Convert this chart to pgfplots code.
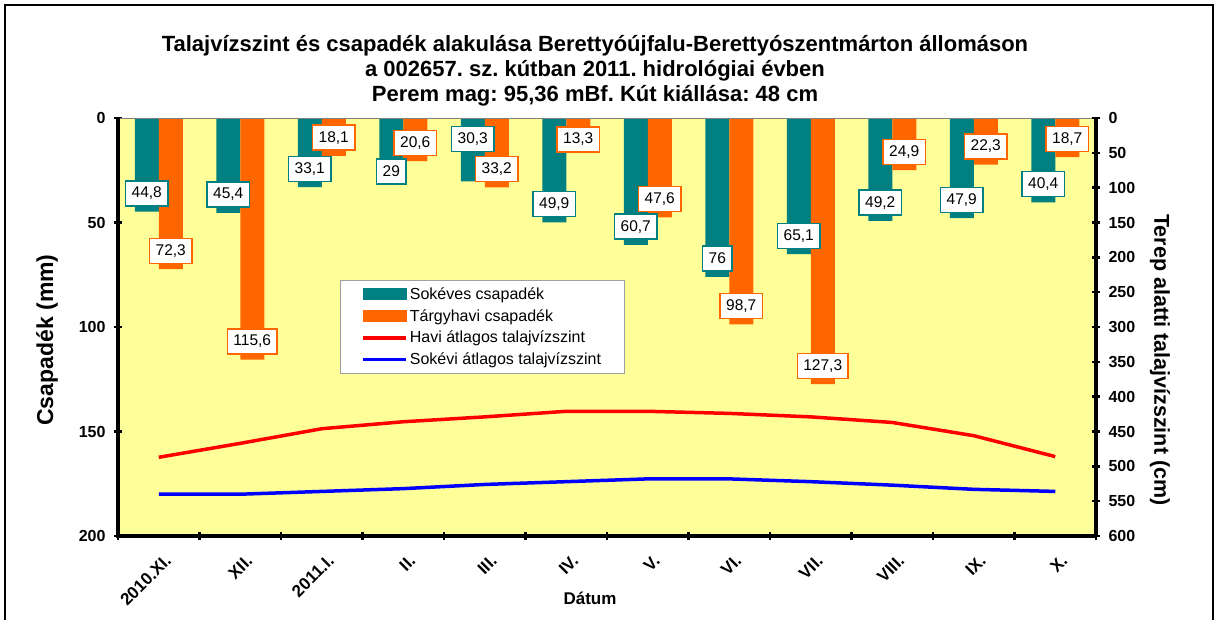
\documentclass[border=0pt]{standalone}
\usepackage{pgfplots}
\usepackage{pgfplotstable}
\pgfplotsset{compat=1.18}
\usepackage{fontspec}
\setmainfont{Liberation Sans}
\frenchspacing
\definecolor{exteal}{HTML}{008080}
\definecolor{exorange}{HTML}{FF6600}
\definecolor{bgyellow}{HTML}{FFFF99}
\definecolor{legborder}{HTML}{A0A0A0}

\pgfplotstableread{
x teal orange dyt dyo
0 44.8 72.3 5 5
1 45.4 115.6 5 5
2 33.1 18.1 5 5
3 29 20.6 -6 5
4 30.3 33.2 29 5
5 49.9 13.3 5 -7
6 60.7 47.6 5 5
7 76 98.7 5 5
8 65.1 127.3 5 5
9 49.2 24.9 5 5
10 47.9 22.3 5 5
11 40.4 18.7 5 5
}\bars

\pgfplotstableread{
x havi sokevi
0 487 540
1 467 540
2 446 536
3 436 532
4 429 526
5 421 522
6 421 518
7 424 518
8 429 522
9 437 527
10 456 533
11 486 536
}\levels

\begin{document}
\begin{tikzpicture}[x=1pt,y=1pt]
\useasboundingbox (0,0) rectangle (1220,-619);
\draw[line width=2pt] (5,-5) rectangle (1213,-660);

\node[align=center, font=\fontsize{22}{25}\selectfont\bfseries] at (595,-71)
 {Talajvízszint és csapadék alakulása Berettyóújfalu-Berettyószentmárton állomáson\\
  a 002657. sz. kútban 2011. hidrológiai évben\\
  Perem mag: 95,36 mBf. Kút kiállása: 48 cm};

\node[rotate=90, font=\fontsize{23}{26}\selectfont\bfseries] at (47,-340) {Csapadék (mm)};
\node[rotate=-90, font=\fontsize{21.5}{25}\selectfont\bfseries] at (1160,-360) {Terep alatti talajvízszint (cm)};
\node[font=\fontsize{17}{20}\selectfont\bfseries] at (590,-598) {Dátum};

\begin{axis}[
  at={(118pt,-118pt)}, anchor=north west,
  width=978pt, height=418pt, scale only axis,
  xmin=-0.5, xmax=11.5, ymin=0, ymax=200, y dir=reverse,
  axis background/.style={fill=bgyellow},
  axis line style={draw=none},
  ytick={0,50,...,200}, ytick pos=left,
  xtick={0,...,11},
  xticklabels={2010.XI.,XII.,2011.I.,II.,III.,IV.,V.,VI.,VII.,VIII.,IX.,X.},
  xtick pos=left,
  minor xtick={-0.5,0.5,...,11.5},
  major x tick style={draw=none},
  minor x tick style={line width=2.5pt, black},
  minor tick length=8pt,
  major y tick style={line width=2.5pt, black},
  major tick length=8pt,
  tick align=center,
  /pgf/number format/assume math mode=true,
  /pgf/number format/use comma,
  tick label style={font=\fontsize{16}{18}\selectfont\bfseries},
  yticklabel style={xshift=-5pt},
  xticklabel style={font=\fontsize{17}{19}\selectfont\bfseries, rotate=45, anchor=north east, inner sep=1pt, xshift=-5pt, yshift=-12pt},
  clip=false,
]
\addplot[ybar, bar width=24pt, bar shift=-12pt, fill=exteal, draw=none] table[x=x,y=teal]{\bars};
\addplot[ybar, bar width=24pt, bar shift=12pt, fill=exorange, draw=none] table[x=x,y=orange]{\bars};
\addplot[ybar, bar width=24pt, bar shift=-12pt, draw=none, fill=none,
  nodes near coords, nodes near coords align={anchor=south},
  visualization depends on={\thisrow{dyt}\as\dy},
  every node near coord/.append style={xshift=-12pt, yshift=\dy pt, draw=exteal, fill=white, line width=1.5pt,
    font=\fontsize{15.5}{18}\selectfont, minimum height=25pt, inner xsep=6pt, inner ysep=0pt}]
  table[x=x,y=teal]{\bars};
\addplot[ybar, bar width=24pt, bar shift=12pt, draw=none, fill=none,
  nodes near coords, nodes near coords align={anchor=south},
  visualization depends on={\thisrow{dyo}\as\dy},
  every node near coord/.append style={xshift=12pt, yshift=\dy pt, draw=exorange, fill=white, line width=1.5pt,
    font=\fontsize{15.5}{18}\selectfont, minimum height=25pt, inner xsep=6pt, inner ysep=0pt}]
  table[x=x,y=orange]{\bars};
\draw[gray, line width=1pt] (axis cs:-0.5,0) -- (axis cs:11.5,0);
\draw[black, line width=3.5pt] (axis cs:-0.5,0) -- (axis cs:-0.5,200) -- (axis cs:11.5,200);
\end{axis}

\begin{axis}[
  at={(118pt,-118pt)}, anchor=north west,
  width=978pt, height=418pt, scale only axis,
  xmin=-0.5, xmax=11.5, ymin=0, ymax=600, y dir=reverse,
  axis line style={draw=none},
  xtick=\empty,
  ytick={0,50,...,600}, ytick pos=right,
  major y tick style={line width=2.5pt, black},
  major tick length=8pt, tick align=center,
  /pgf/number format/assume math mode=true,
  tick label style={font=\fontsize{16}{18}\selectfont\bfseries},
  yticklabel style={xshift=5pt},
  clip=false,
  legend style={at={(0.227,0.612)}, anchor=north west, draw=legborder, fill=white,
    line width=0.8pt, font=\fontsize{16}{18}\selectfont, inner xsep=21pt, inner ysep=5pt,
    row sep=4.5pt, /tikz/every even column/.append style={column sep=2pt}},
  legend cell align=left,
]
\addlegendimage{legend image code/.code={\fill[exteal] (0pt,-5.5pt) rectangle (43pt,5.5pt);}}
\addlegendentry{Sokéves csapadék}
\addlegendimage{legend image code/.code={\fill[exorange] (0pt,-5.5pt) rectangle (43pt,5.5pt);}}
\addlegendentry{Tárgyhavi csapadék}
\addplot[red, line width=3.5pt, legend image code/.code={\draw[red, line width=3.5pt] (0pt,0pt) -- (43pt,0pt);}] table[x=x,y=havi]{\levels};
\addlegendentry{Havi átlagos talajvízszint}
\addplot[blue, line width=3.5pt, legend image code/.code={\draw[blue, line width=3.5pt] (0pt,0pt) -- (43pt,0pt);}] table[x=x,y=sokevi]{\levels};
\addlegendentry{Sokévi átlagos talajvízszint}
\draw[black, line width=3.5pt] (axis cs:11.5,0) -- (axis cs:11.5,600);
\end{axis}
\end{tikzpicture}
\end{document}
